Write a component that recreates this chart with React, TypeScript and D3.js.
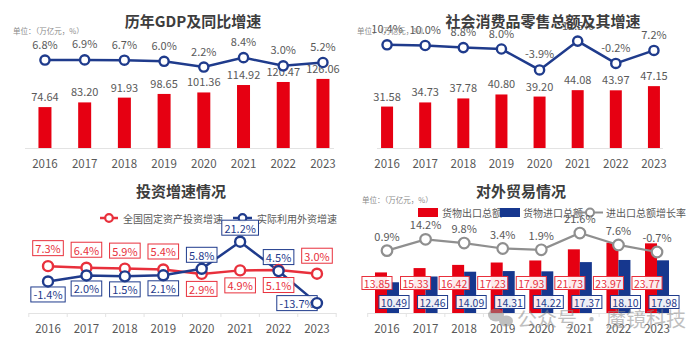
import React from 'react';
import * as d3 from 'd3';

const years = ['2016', '2017', '2018', '2019', '2020', '2021', '2022', '2023'];

// 历年GDP及同比增速
const gdpValues = [74.64, 83.2, 91.93, 98.65, 101.36, 114.92, 120.47, 126.06];
const gdpGrowth = [6.8, 6.9, 6.7, 6.0, 2.2, 8.4, 3.0, 5.2];

// 社会消费品零售总额及其增速
const retailValues = [31.58, 34.73, 37.78, 40.8, 39.2, 44.08, 43.97, 47.15];
const retailGrowth = [10.4, 10.0, 8.8, 8.0, -3.9, 12.5, -0.2, 7.2];

// 投资增速情况
const fixedInvestGrowth = [7.3, 6.4, 5.9, 5.4, 2.9, 4.9, 5.1, 3.0];
const foreignInvestGrowth = [-1.4, 2.0, 1.5, 2.1, 5.8, 21.2, 4.5, -13.7];
const fixedLabelPos = ['top', 'top', 'top', 'top', 'bottom', 'bottom', 'bottom', 'top'];
const foreignLabelPos = ['bottom', 'bottom', 'bottom', 'bottom', 'top', 'top', 'top', 'left'];

// 对外贸易情况
const exportValues = [13.85, 15.33, 16.42, 17.23, 17.93, 21.73, 23.97, 23.77];
const importValues = [10.49, 12.46, 14.09, 14.31, 14.22, 17.37, 18.1, 17.98];
const tradeGrowth = [0.9, 14.2, 9.8, 3.4, 1.9, 21.6, 7.6, -0.7];

const FONT = '"Noto Sans CJK SC", "Noto Sans", sans-serif';
const RED = '#e60012';
const NAVY = '#1f3b8c';
const BLUE_BAR = '#16378e';
const LRED = '#e8303c';
const TXT = '#595959';
const TITLE = '#3d3d3d';
const GREY_LINE = '#8f8f8f';

function textW(s: string, fs: number) {
  let w = 0;
  for (const c of s) {
    if (c >= '0' && c <= '9') w += 0.553;
    else if (c === '.') w += 0.27;
    else if (c === '%') w += 0.86;
    else if (c === '-') w += 0.34;
    else w += 1;
  }
  return w * fs;
}

function BoxLabel(props: { cx: number; cy: number; text: string; color: string; fs: number; padX: number; h: number }) {
  const { cx, cy, text, color, fs, padX, h } = props;
  const w = textW(text, fs) + 2 * padX;
  return (
    <g>
      <rect x={cx - w / 2} y={cy - h / 2} width={w} height={h} fill="#fff" fillOpacity={0.92} stroke={color} strokeWidth={1} />
      <text x={cx} y={cy} textAnchor="middle" dominantBaseline="central" fontSize={fs} fill={color}>
        {text}
      </text>
    </g>
  );
}

function fmtPct(v: number) {
  return v.toFixed(1) + '%';
}

function BarLinePanel(props: {
  title: string;
  titleX: number;
  unitX: number;
  range: [number, number];
  axisFrom: number;
  axisTo: number;
  values: number[];
  growth: number[];
  barPxPerUnit: number;
  lineY0: number;
  linePxPerUnit: number;
  barW: number;
}) {
  const p = props;
  const baseY = 148;
  const x = d3.scaleBand<string>().domain(years).range(p.range);
  const cx = (i: number) => (x(years[i]) as number) + x.bandwidth() / 2;
  const yBar = d3.scaleLinear().domain([0, 100]).range([baseY, baseY - 100 * p.barPxPerUnit]);
  const yLine = d3.scaleLinear().domain([0, 10]).range([p.lineY0, p.lineY0 - 10 * p.linePxPerUnit]);
  const line = d3
    .line<number>()
    .x((_, i) => cx(i))
    .y((v) => yLine(v));
  return (
    <g>
      <line x1={p.axisFrom} x2={p.axisTo} y1={baseY + 0.5} y2={baseY + 0.5} stroke="#e3e3e3" strokeWidth={1} />
      {p.values.map((v, i) => (
        <rect key={'b' + i} x={cx(i) - p.barW / 2} y={yBar(v)} width={p.barW} height={baseY - yBar(v)} fill={RED} />
      ))}
      {p.values.map((v, i) => (
        <text key={'bl' + i} x={cx(i)} y={yBar(v) - 11} textAnchor="middle" dominantBaseline="central" fontSize={11} fill={TXT}>
          {v.toFixed(2)}
        </text>
      ))}
      {years.map((yr, i) => (
        <text key={'y' + i} x={cx(i)} y={163} textAnchor="middle" dominantBaseline="central" fontSize={11.5} fill={TXT}>
          {yr}
        </text>
      ))}
      <path d={line(p.growth) as string} fill="none" stroke={NAVY} strokeWidth={2.5} />
      {p.growth.map((v, i) => (
        <circle key={'c' + i} cx={cx(i)} cy={yLine(v)} r={4.6} fill="#fff" stroke={NAVY} strokeWidth={2.4} />
      ))}
      {p.growth.map((v, i) => (
        <text key={'gl' + i} x={cx(i)} y={yLine(v) - 16.5} textAnchor="middle" dominantBaseline="central" fontSize={11} fill={TXT}>
          {fmtPct(v)}
        </text>
      ))}
      <text x={p.unitX} y={30} fontSize={7.5} fill="#8a8a8a" dominantBaseline="central">
        单位：（万亿元，%）
      </text>
      <text x={p.titleX} y={20} textAnchor="middle" dominantBaseline="central" fontSize={15} fontWeight="bold" fill={TITLE}>
        {p.title}
      </text>
    </g>
  );
}

function InvestPanel() {
  const x = d3.scaleBand<string>().domain(years).range([28.8, 336.2]);
  const cx = (i: number) => (x(years[i]) as number) + x.bandwidth() / 2;
  const y = d3.scaleLinear().domain([0, 10]).range([279, 279 - 17.6]);
  const line = d3
    .line<number>()
    .x((_, i) => cx(i))
    .y((v) => y(v));
  const axisY = 313;
  const ticks = d3.range(years.length + 1).map((i) => 28.8 + i * x.bandwidth());
  const labelPos = (pos: string, i: number, v: number, isRed: boolean) => {
    if (pos === 'left') return { lx: cx(i) - 20, ly: y(v) };
    if (pos === 'top') return { lx: cx(i), ly: y(v) - (isRed ? 18 : 14) };
    return { lx: cx(i), ly: y(v) + (isRed ? 15 : 13) };
  };
  return (
    <g>
      <text x={181} y={190} textAnchor="middle" dominantBaseline="central" fontSize={15} fontWeight="bold" fill={TITLE}>
        投资增速情况
      </text>
      {/* legend */}
      <line x1={100} x2={118} y1={218} y2={218} stroke={LRED} strokeWidth={2.5} />
      <circle cx={109} cy={218} r={3.8} fill="#fff" stroke={LRED} strokeWidth={2.2} />
      <text x={123} y={218} dominantBaseline="central" fontSize={10} fill={TXT}>
        全国固定资产投资增速
      </text>
      <line x1={233} x2={252} y1={218} y2={218} stroke={NAVY} strokeWidth={2.5} />
      <circle cx={242.5} cy={218} r={3.8} fill="#fff" stroke={NAVY} strokeWidth={2.2} />
      <text x={257} y={218} dominantBaseline="central" fontSize={10} fill={TXT}>
        实际利用外资增速
      </text>
      {/* axis */}
      <line x1={28.8} x2={336.2} y1={axisY + 0.5} y2={axisY + 0.5} stroke="#e3e3e3" strokeWidth={1} />
      {ticks.map((t, i) => (
        <line key={'t' + i} x1={t} x2={t} y1={axisY} y2={axisY + 4} stroke="#e3e3e3" strokeWidth={1} />
      ))}
      {years.map((yr, i) => (
        <text key={'y' + i} x={cx(i)} y={328} textAnchor="middle" dominantBaseline="central" fontSize={11.5} fill={TXT}>
          {yr}
        </text>
      ))}
      <path d={line(fixedInvestGrowth) as string} fill="none" stroke={LRED} strokeWidth={2.5} />
      <path d={line(foreignInvestGrowth) as string} fill="none" stroke={NAVY} strokeWidth={2.5} />
      {fixedInvestGrowth.map((v, i) => {
        const { lx, ly } = labelPos(fixedLabelPos[i], i, v, true);
        return <BoxLabel key={'rl' + i} cx={lx} cy={ly} text={fmtPct(v)} color={LRED} fs={11} padX={3} h={15} />;
      })}
      {foreignInvestGrowth.map((v, i) => {
        const { lx, ly } = labelPos(foreignLabelPos[i], i, v, false);
        return <BoxLabel key={'bl' + i} cx={lx} cy={ly} text={fmtPct(v)} color={NAVY} fs={11} padX={3} h={15} />;
      })}
      {fixedInvestGrowth.map((v, i) => (
        <circle key={'rc' + i} cx={cx(i)} cy={y(v)} r={5} fill="#fff" stroke={LRED} strokeWidth={2.4} />
      ))}
      {foreignInvestGrowth.map((v, i) => (
        <circle key={'bc' + i} cx={cx(i)} cy={y(v)} r={5} fill="#fff" stroke={NAVY} strokeWidth={2.4} />
      ))}
    </g>
  );
}

function TradePanel() {
  const x = d3.scaleBand<string>().domain(years).range([367.7, 676.3]);
  const cx = (i: number) => (x(years[i]) as number) + x.bandwidth() / 2;
  const baseY = 313;
  const yBar = d3.scaleLinear().domain([0, 10]).range([baseY, baseY - 29.3]);
  const yLine = d3.scaleLinear().domain([0, 10]).range([251.4, 251.4 - 8.5]);
  const line = d3
    .line<number>()
    .x((_, i) => cx(i))
    .y((v) => yLine(v));
  const bw = 12;
  const ticks = d3.range(years.length + 1).map((i) => 367.7 + i * x.bandwidth());
  return (
    <g>
      <text x={521} y={190} textAnchor="middle" dominantBaseline="central" fontSize={15} fontWeight="bold" fill={TITLE}>
        对外贸易情况
      </text>
      <text x={362} y={199} fontSize={7.5} fill="#8a8a8a" dominantBaseline="central">
        单位：（万亿元，%）
      </text>
      {/* axis */}
      <line x1={367.7} x2={676.3} y1={baseY + 0.5} y2={baseY + 0.5} stroke="#e3e3e3" strokeWidth={1} />
      {ticks.map((t, i) => (
        <line key={'t' + i} x1={t} x2={t} y1={baseY} y2={baseY + 4} stroke="#e3e3e3" strokeWidth={1} />
      ))}
      {years.map((yr, i) => (
        <text key={'y' + i} x={cx(i)} y={328} textAnchor="middle" dominantBaseline="central" fontSize={11.5} fill={TXT}>
          {yr}
        </text>
      ))}
      {exportValues.map((v, i) => (
        <rect key={'e' + i} x={cx(i) - bw} y={yBar(v)} width={bw} height={baseY - yBar(v)} fill={RED} />
      ))}
      {importValues.map((v, i) => (
        <rect key={'m' + i} x={cx(i)} y={yBar(v)} width={bw} height={baseY - yBar(v)} fill={BLUE_BAR} />
      ))}
      {/* legend */}
      <rect x={418} y={208} width={20} height={9} fill={RED} />
      <text x={442} y={212.5} dominantBaseline="central" fontSize={10} fill={TXT}>
        货物出口总额
      </text>
      <rect x={500} y={208} width={20} height={9} fill={BLUE_BAR} />
      <text x={523} y={212.5} dominantBaseline="central" fontSize={10} fill={TXT}>
        货物进口总额
      </text>
      <line x1={577} x2={603} y1={212.5} y2={212.5} stroke={GREY_LINE} strokeWidth={2} />
      <circle cx={590} cy={212.5} r={4} fill="#fff" stroke={GREY_LINE} strokeWidth={2} />
      <text x={606} y={212.5} dominantBaseline="central" fontSize={10} fill={TXT}>
        进出口总额增长率
      </text>
      {/* growth line */}
      <path d={line(tradeGrowth) as string} fill="none" stroke={GREY_LINE} strokeWidth={2.2} />
      {tradeGrowth.map((v, i) => (
        <circle key={'c' + i} cx={cx(i)} cy={yLine(v)} r={5.3} fill="#fff" stroke={GREY_LINE} strokeWidth={2.2} />
      ))}
      {tradeGrowth.map((v, i) => (
        <text key={'gl' + i} x={cx(i)} y={yLine(v) - 15} textAnchor="middle" dominantBaseline="central" fontSize={11} fill={TXT}>
          {fmtPct(v)}
        </text>
      ))}
      {exportValues.map((v, i) => (
        <BoxLabel key={'el' + i} cx={cx(i) - bw / 2 - 4} cy={283} text={v.toFixed(2)} color={LRED} fs={10.5} padX={2} h={13} />
      ))}
      {importValues.map((v, i) => (
        <BoxLabel key={'ml' + i} cx={cx(i) + bw / 2 + 1} cy={302} text={v.toFixed(2)} color={NAVY} fs={10.5} padX={2} h={13} />
      ))}
      {/* watermark */}
      <g opacity={0.55} fill="#8c8c8c">
        <ellipse cx={496} cy={315} rx={8} ry={6.5} />
        <ellipse cx={506} cy={321} rx={7} ry={5.5} />
        <text x={517} y={318} dominantBaseline="central" fontSize={20} fill="#8c8c8c">
          公众号 · 魔镜科技
        </text>
      </g>
    </g>
  );
}

export default function App() {
  return (
    <svg
      width={697}
      height={347}
      viewBox="0 0 697 347"
      style={{ position: 'fixed', left: 0, top: 0, background: '#fff' }}
      fontFamily={FONT}
    >
      <rect x={0} y={0} width={697} height={347} fill="#fff" />
      <BarLinePanel
        title="历年GDP及同比增速"
        titleX={193}
        unitX={13}
        range={[25.1, 342.8]}
        axisFrom={25}
        axisTo={334}
        values={gdpValues}
        growth={gdpGrowth}
        barPxPerUnit={0.548}
        lineY0={70.4}
        linePxPerUnit={1.52}
        barW={13}
      />
      <BarLinePanel
        title="社会消费品零售总额及其增速"
        titleX={543}
        unitX={357}
        range={[368, 673]}
        axisFrom={377}
        axisTo={663}
        values={retailValues}
        growth={retailGrowth}
        barPxPerUnit={1.312}
        lineY0={63.1}
        linePxPerUnit={1.76}
        barW={12}
      />
      <InvestPanel />
      <TradePanel />
    </svg>
  );
}
